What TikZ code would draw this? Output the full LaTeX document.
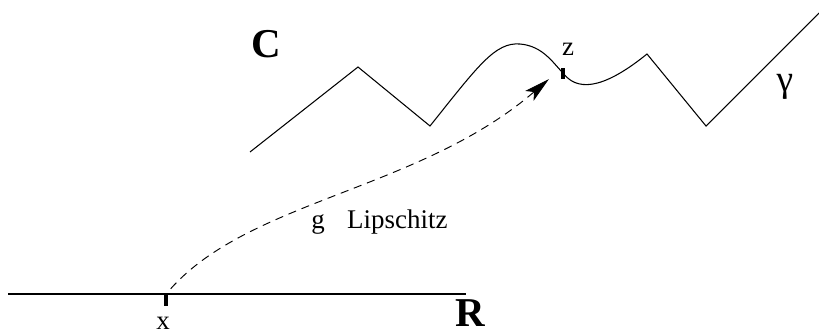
\documentclass[tikz,border=0pt]{standalone}
\usepackage{fontspec}
\setmainfont{Liberation Serif}
\usetikzlibrary{arrows.meta}

\begin{document}
\begin{tikzpicture}[x=0.03cm, y=-0.03cm,
  curve/.style={line width=0.9pt},
  tickmark/.style={line width=3.6pt},
  arr/.style={-{Stealth[length=22pt, width=11pt, inset=5pt]}, line width=0.8pt,
    dash pattern=on 7pt off 5pt},
  lbl/.style={font=\fontsize{23pt}{26pt}\selectfont, inner sep=0pt, anchor=base},
  big/.style={font=\fontsize{35pt}{40pt}\selectfont\bfseries, inner sep=0pt, anchor=base}
]
\useasboundingbox (0,0) rectangle (819,335);

% the real line
\draw[curve] (8,294) coordinate (rl) -- (466,294) coordinate (rr);
\coordinate (xpt) at (166,294);
\draw[tickmark] (xpt) -- ++(0,12);
\node[lbl] (xlab) at (163,329) {x};
\node[big] (rlab) at (470,326) {R};

% the curve gamma
\coordinate (zpt) at (563,73);
\draw[curve] (250,152) -- (358,67) -- (430,126)
  .. controls (478,66) and (495,42) .. (520,44)
  .. controls (543,46) and (553,63) .. (zpt)
  .. controls (576,90) and (600,92) .. (647,54)
  -- (706,126) -- (819,13);
\draw[tickmark] (563,68) -- (563,79);
\node[lbl] (zlab) at (568,55) {z};
\node[lbl, font=\fontsize{32pt}{36pt}\selectfont, anchor=center] (gamma) at (785,87) {γ};
\node[big] (clab) at (266,57) {C};

% the map g
\coordinate (tip) at (549,79);
\draw[arr, shorten <=6pt] (xpt) .. controls (250,200) and (420,190) .. (tip);
\node[lbl] (glab) at (318,228) {g};
\node[lbl, anchor=base west] (lip) at (347,228) {Lipschitz};
\end{tikzpicture}
\end{document}
